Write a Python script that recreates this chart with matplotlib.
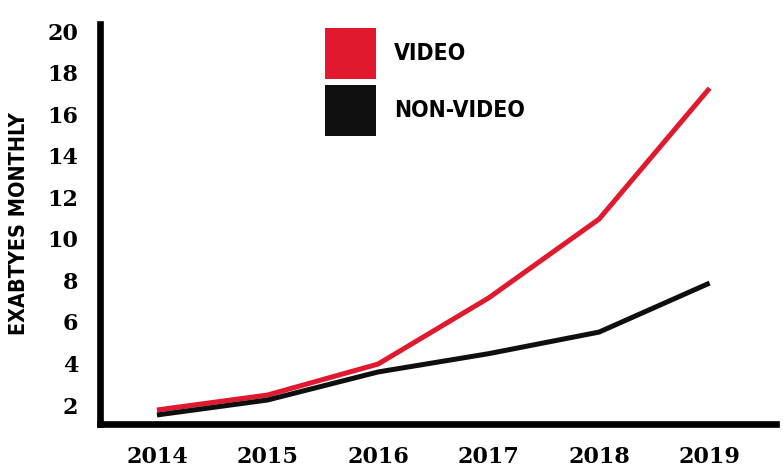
import matplotlib.pyplot as plt
from matplotlib.patches import Patch

years = [2014, 2015, 2016, 2017, 2018, 2019]
video = [1.76, 2.48, 3.97, 7.15, 10.95, 17.25]
non_video = [1.52, 2.24, 3.59, 4.47, 5.51, 7.87]
y_ticks = [2, 4, 6, 8, 10, 12, 14, 16, 18, 20]

red = '#e0192e'
dark = '#0f0f0f'

fig = plt.figure(figsize=(7.83, 4.72), dpi=100)
ax = fig.add_axes([0.1277, 0.1017, 0.8633, 0.8475])

ax.plot(years, video, color=red, lw=3.6, solid_capstyle='butt')
ax.plot(years, non_video, color=dark, lw=3.6, solid_capstyle='butt')

ax.set_xlim(2013.485, 2019.6)
ax.set_ylim(1.086, 20.34)

for s in ['top', 'right']:
    ax.spines[s].set_visible(False)
for s in ['left', 'bottom']:
    ax.spines[s].set_linewidth(4.8)
    ax.spines[s].set_color('black')

ax.set_xticks(years)
ax.set_xticklabels([str(y) for y in years])
ax.set_yticks(y_ticks)
ax.tick_params(length=0)
ax.tick_params(axis='x', pad=16)
ax.tick_params(axis='y', pad=15.5)
for lab in ax.get_xticklabels() + ax.get_yticklabels():
    lab.set_fontfamily('DejaVu Serif')
    lab.set_fontweight('heavy')
    lab.set_fontsize(16)

ax.set_ylabel('EXABTYES MONTHLY', family=['Liberation Sans Narrow', 'DejaVu Sans'],
              fontweight='bold', fontstretch='condensed', fontsize=15.5, labelpad=13)

# square legend swatches
handles = [Patch(facecolor=red, edgecolor='none'), Patch(facecolor=dark, edgecolor='none')]
leg = ax.legend(handles, ['VIDEO', 'NON-VIDEO'], loc='upper left',
                bbox_to_anchor=(0.333, 0.99), frameon=False, borderpad=0, borderaxespad=0,
                handlelength=2.2, handleheight=3.05, labelspacing=0.25, handletextpad=0.8,
                prop={'family': ['Liberation Sans Narrow', 'DejaVu Sans'], 'weight': 'bold',
                      'stretch': 'condensed', 'size': 16.5})

fig.savefig('out.png', dpi=100)
